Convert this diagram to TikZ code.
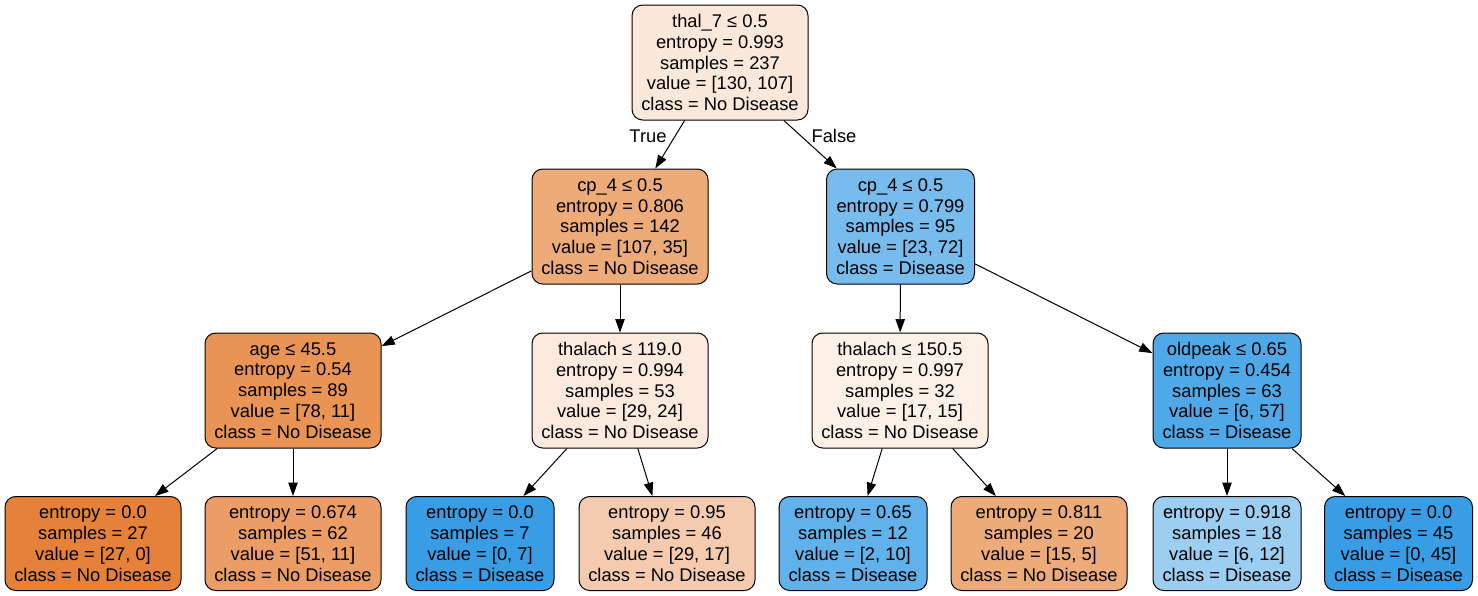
\documentclass[tikz,border=0pt]{standalone}
\usepackage{fontspec}
\setmainfont{Liberation Sans}
\usetikzlibrary{arrows.meta}
\definecolor{clsA}{HTML}{E58139}
\definecolor{clsB}{HTML}{399DE5}
\begin{document}
\begin{tikzpicture}[x=0.75pt,y=-0.75pt,
  tbox/.style={draw=black, line width=0.75pt, rounded corners=8pt, align=center,
    inner sep=0pt, font=\fontsize{13.75}{15.6}\selectfont},
  inner/.style={tbox, minimum height=86.25pt},
  leaf/.style={tbox, minimum height=70.5pt},
  wide/.style={minimum width=132pt},
  narrow/.style={minimum width=111pt},
  edge/.style={draw=black, line width=0.75pt, -{Triangle[length=10pt,width=7pt]}},
  elabel/.style={font=\fontsize{13.75}{15.6}\selectfont, inner sep=0pt}
]
\useasboundingbox (0,0) rectangle (1478,596);
% level 0
\node[inner, wide, fill=clsA!18!white] (root) at (720,62.5)
  {thal\_7 ≤ 0.5\\entropy = 0.993\\samples = 237\\value = [130, 107]\\class = No Disease};
% level 1
\node[inner, wide, fill=clsA!67!white] (n1) at (620,226.5)
  {cp\_4 ≤ 0.5\\entropy = 0.806\\samples = 142\\value = [107, 35]\\class = No Disease};
\node[inner, narrow, fill=clsB!68!white] (n2) at (900.5,226.5)
  {cp\_4 ≤ 0.5\\entropy = 0.799\\samples = 95\\value = [23, 72]\\class = Disease};
% level 2
\node[inner, wide, fill=clsA!86!white] (n3) at (293,390.5)
  {age ≤ 45.5\\entropy = 0.54\\samples = 89\\value = [78, 11]\\class = No Disease};
\node[inner, wide, fill=clsA!17!white] (n4) at (620,390.5)
  {thalach ≤ 119.0\\entropy = 0.994\\samples = 53\\value = [29, 24]\\class = No Disease};
\node[inner, wide, fill=clsA!12!white] (n5) at (900,390.5)
  {thalach ≤ 150.5\\entropy = 0.997\\samples = 32\\value = [17, 15]\\class = No Disease};
\node[inner, narrow, fill=clsB!89!white] (n6) at (1227,390.5)
  {oldpeak ≤ 0.65\\entropy = 0.454\\samples = 63\\value = [6, 57]\\class = Disease};
% level 3
\node[leaf, wide, fill=clsA] (l1) at (93,543.5)
  {entropy = 0.0\\samples = 27\\value = [27, 0]\\class = No Disease};
\node[leaf, wide, fill=clsA!78!white] (l2) at (293,543.5)
  {entropy = 0.674\\samples = 62\\value = [51, 11]\\class = No Disease};
\node[leaf, narrow, fill=clsB] (l3) at (480,543.5)
  {entropy = 0.0\\samples = 7\\value = [0, 7]\\class = Disease};
\node[leaf, wide, fill=clsA!41!white] (l4) at (667,543.5)
  {entropy = 0.95\\samples = 46\\value = [29, 17]\\class = No Disease};
\node[leaf, narrow, fill=clsB!80!white] (l5) at (853,543.5)
  {entropy = 0.65\\samples = 12\\value = [2, 10]\\class = Disease};
\node[leaf, wide, fill=clsA!67!white] (l6) at (1039,543.5)
  {entropy = 0.811\\samples = 20\\value = [15, 5]\\class = No Disease};
\node[leaf, narrow, fill=clsB!50!white] (l7) at (1227,543.5)
  {entropy = 0.918\\samples = 18\\value = [6, 12]\\class = Disease};
\node[leaf, narrow, fill=clsB] (l8) at (1398.5,543.5)
  {entropy = 0.0\\samples = 45\\value = [0, 45]\\class = Disease};
% edges
\draw[edge] (root) -- (n1);
\draw[edge] (root) -- (n2);
\draw[edge] (n1) -- (n3);
\draw[edge] (n1) -- (n4);
\draw[edge] (n2) -- (n5);
\draw[edge] (n2) -- (n6);
\draw[edge] (n3) -- (l1);
\draw[edge] (n3) -- (l2);
\draw[edge] (n4) -- (l3);
\draw[edge] (n4) -- (l4);
\draw[edge] (n5) -- (l5);
\draw[edge] (n5) -- (l6);
\draw[edge] (n6) -- (l7);
\draw[edge] (n6) -- (l8);
% edge labels
\node[elabel] (ltrue) at (648,136) {True};
\node[elabel] (lfalse) at (834,136) {False};
\end{tikzpicture}
\end{document}
